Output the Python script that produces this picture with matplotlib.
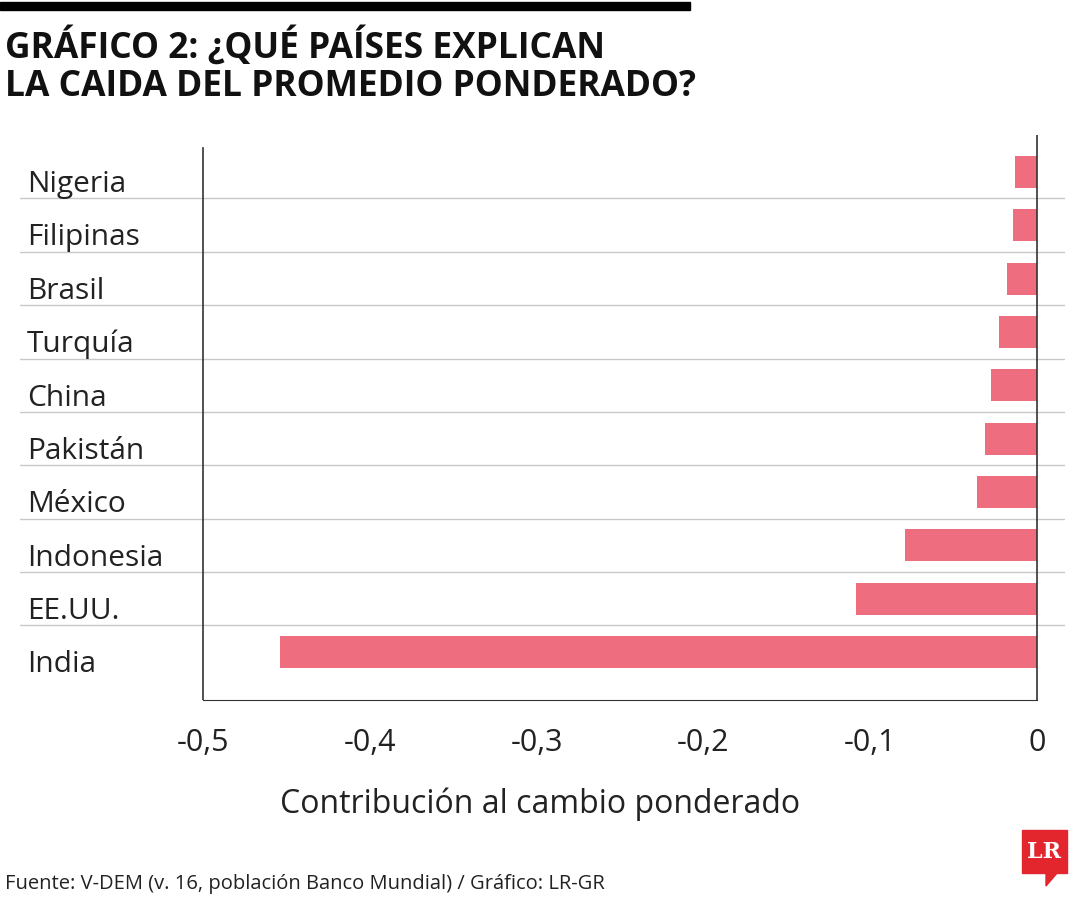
import matplotlib
matplotlib.use("Agg")
import matplotlib.pyplot as plt
from matplotlib.patches import Rectangle, Polygon

countries = ["India", "EE.UU.", "Indonesia", "México", "Pakistán", "China", "Turquía", "Brasil", "Filipinas", "Nigeria"]
values = [-0.454, -0.1085, -0.079, -0.036, -0.031, -0.0276, -0.023, -0.018, -0.0144, -0.013]
xticks = [-0.5, -0.4, -0.3, -0.2, -0.1, 0]
xticklabels = ["-0,5", "-0,4", "-0,3", "-0,2", "-0,1", "0"]

plt.rcParams['font.family'] = ['Open Sans', 'DejaVu Sans']
W, H = 1080, 900
fig = plt.figure(figsize=(10.8, 9), dpi=100)

def fx(px): return px / W
def fy(py): return 1 - py / H

ax = fig.add_axes([fx(20), fy(700), fx(1065 - 20), (700 - 135) / H])
scale = 1668.0
ax.set_xlim(-0.5 - 183 / scale, 28 / scale)
ax.set_ylim(-0.9, 9.69)
y = list(range(len(countries)))
ax.barh(y, values, height=0.6, color="#EE6E80", zorder=3)
for i in range(len(countries) - 1):
    ax.axhline(i + 0.5, color="#c8c8c8", lw=1, zorder=1)
ax.plot([-0.5, -0.5], [-0.9, 9.45], color="#333333", lw=1.2, zorder=4)
ax.plot([0, 0], [-0.9, 9.69], color="#333333", lw=1.2, zorder=4)
for s in ax.spines.values():
    s.set_visible(False)
ax.spines['bottom'].set_visible(True)
ax.spines['bottom'].set_bounds(-0.5, 0)
ax.spines['bottom'].set_color("#333333")
ax.set_yticks([])
ax.set_xticks(xticks)
ax.set_xticklabels(xticklabels, fontsize=22, color="#222222")
ax.tick_params(axis='x', length=0, pad=20)
for i, c in enumerate(countries):
    ax.text(-0.5 - 176 / scale, i - 0.24, c, fontsize=21.5, color="#222222", va='center', ha='left')
ax.set_xlabel("Contribución al cambio ponderado", fontsize=23, color="#222222")
ax.xaxis.set_label_coords((540 - 20) / (1045), -0.155)

fig.patches.append(Rectangle((0, fy(10)), fx(690), 8 / H, transform=fig.transFigure, color="black"))
fig.text(fx(5), fy(47), "GRÁFICO 2: ¿QUÉ PAÍSES EXPLICAN", fontsize=25.5, fontweight='bold', va='center', color="#111111")
fig.text(fx(5), fy(87), "LA CAIDA DEL PROMEDIO PONDERADO?", fontsize=25.5, fontweight='bold', va='center', color="#111111")
fig.text(fx(5), fy(884), "Fuente: V-DEM (v. 16, población Banco Mundial) / Gráfico: LR-GR", fontsize=14.5, va='center', color="#222222")

fig.patches.append(Rectangle((fx(1022), fy(873)), 45 / W, 43 / H, transform=fig.transFigure, color="#E3262E"))
fig.patches.append(Polygon([(fx(1046), fy(872)), (fx(1058), fy(872)), (fx(1046), fy(886))], closed=True, transform=fig.transFigure, color="#E3262E"))
fig.text(fx(1044.5), fy(852), "LR", fontsize=16, fontweight='bold', family='DejaVu Serif', color='white', ha='center', va='center')

fig.savefig("out.png", dpi=100, facecolor="white")
